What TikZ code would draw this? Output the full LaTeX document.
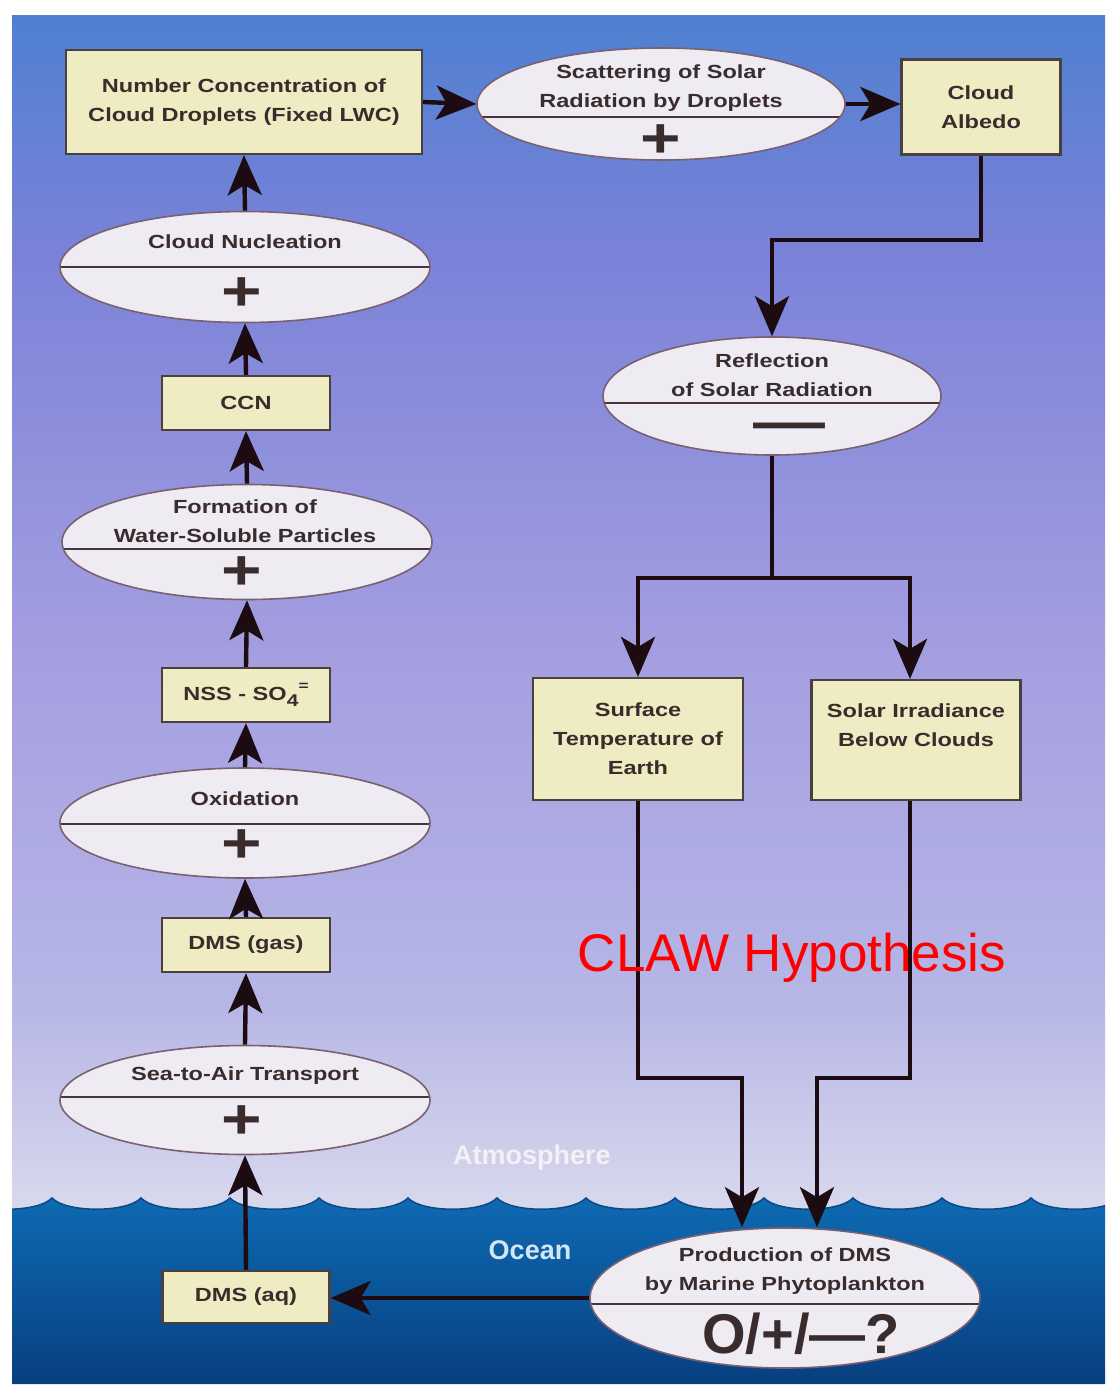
\documentclass[tikz,border=0pt]{standalone}
\usepackage{fontspec}
\setmainfont{Liberation Sans}
\newfontfamily\boxfont[FakeStretch=1.24]{Liberation Sans}
\usetikzlibrary{arrows.meta,shapes.geometric}
\definecolor{sk1}{HTML}{4F80D0}
\definecolor{sk2}{HTML}{7A82D8}
\definecolor{sk3}{HTML}{A49EE0}
\definecolor{sk4}{HTML}{B6B6E6}
\definecolor{sk5}{HTML}{DADAEE}
\definecolor{oc1}{HTML}{0E6AB2}
\definecolor{oc2}{HTML}{083F80}
\definecolor{wavec}{HTML}{0A4C88}
\definecolor{boxfill}{HTML}{EFEBC2}
\definecolor{boxline}{HTML}{4A4040}
\definecolor{ellfill}{HTML}{EEEBF3}
\definecolor{ellline}{HTML}{7A6070}
\definecolor{divc}{HTML}{4A3444}
\definecolor{txt}{HTML}{3A2C2C}
\definecolor{arrc}{HTML}{1C0C12}
\definecolor{atmc}{HTML}{F4F0F6}
\definecolor{ocnc}{HTML}{D2E6F8}
\newcommand\lblfont{\boxfont\bfseries\fontsize{9.5}{14.5}\selectfont}
\newcommand\sgnfont{\boxfont\bfseries\fontsize{28}{28}\selectfont}
\newcommand\atmfont{\bfseries\fontsize{13.5}{15}\selectfont}
\newcommand\clawfont{\fontsize{26.5}{30}\selectfont}
\begin{document}
\begin{tikzpicture}[x=0.5pt,y=-0.5pt,
  box/.style={draw=boxline,fill=boxfill,line width=1.1pt,inner sep=0pt,align=center,text=txt,font=\lblfont},
  ell/.style={ellipse,draw=ellline,fill=ellfill,line width=0.8pt,inner sep=0pt},
  sz/.style 2 args={minimum width=#1*0.5pt,minimum height=#2*0.5pt},
  lbl/.style={inner sep=0pt,align=center,text=txt,font=\lblfont},
  sgn/.style={inner sep=0pt,text=txt,font=\sgnfont},
  divline/.style={draw=divc,line width=1.2pt},
  div/.style={path picture={\draw[divline] ([yshift=#1]path picture bounding box.west) -- ([yshift=#1]path picture bounding box.east);}},
  arr/.style={draw=arrc,line width=2.2pt,line join=miter,-{Stealth[length=20pt,width=17pt,inset=5pt]}},
  link/.style={draw=arrc,line width=2.2pt,line join=miter},
]
\useasboundingbox (0,0) rectangle (1105,1387);
\fill[white] (0,0) rectangle (1105,1387);
% sky
\shade[top color=sk1,bottom color=sk2] (12,15) rectangle (1105,251);
\shade[top color=sk2,bottom color=sk3] (12,250) rectangle (1105,651);
\shade[top color=sk3,bottom color=sk4] (12,650) rectangle (1105,1001);
\shade[top color=sk4,bottom color=sk5] (12,1000) rectangle (1105,1220);
% ocean
\begin{scope}
\clip (12,15) rectangle (1105,1384);
\shade[top color=oc1,bottom color=oc2] (-37,1384) -- (-37,1198)
  foreach \x in {-37,52,...,1031} { .. controls (\x+14,1213) and (\x+75,1213) .. (\x+89,1198) }
  -- (1120,1384) -- cycle;
\draw[wavec,line width=0.8pt] (-37,1198)
  foreach \x in {-37,52,...,1031} { .. controls (\x+14,1213) and (\x+75,1213) .. (\x+89,1198) };
\end{scope}

% boxes
\node[box,sz={356}{104}] (num) at (244,102) {Number Concentration of\\Cloud Droplets (Fixed LWC)};
\node[box,sz={159}{95}] (alb) at (981,107) {Cloud\\Albedo};
\node[box,sz={168}{54}] (ccn) at (246,403) {CCN};
\node[box,sz={168}{54}] (nss) at (246,695) {NSS - SO\raisebox{-3pt}{\fontsize{8.5}{8.5}\selectfont 4}\raisebox{5pt}{\fontsize{7}{7}\selectfont =}};
\node[box,sz={168}{54}] (dmsg) at (246,945) {DMS (gas)};
\node[box,sz={167}{52}] (dmsaq) at (246,1297) {DMS (aq)};
\node[box,sz={210}{122}] (surf) at (638,739) {Surface\\Temperature of\\Earth};
\node[box,sz={209}{120}] (sol) at (916,740) {Solar Irradiance\\Below Clouds\\\mbox{}};

% ellipses
\node[ell,sz={368}{112},div=-6.5pt] (scat) at (661,104) {};
\node[lbl] (scatT) at (661,88) {Scattering of Solar\\Radiation by Droplets};
\node[sgn] (scatS) at (661,141) {+};

\node[ell,sz={370}{111},div=0pt] (nuc) at (245,267) {};
\node[lbl] (nucT) at (245,242) {Cloud Nucleation};
\node[sgn] (nucS) at (242,294) {+};

\node[ell,sz={370}{115},div=-3.5pt] (form) at (247,542) {};
\node[lbl] (formT) at (245,521) {Formation of\\Water-Soluble Particles};
\node[sgn] (formS) at (242,573) {+};

\node[ell,sz={370}{110},div=-0.5pt] (oxi) at (245,823) {};
\node[lbl] (oxiT) at (245,799) {Oxidation};
\node[sgn] (oxiS) at (242,846) {+};

\node[ell,sz={370}{109},div=1.5pt] (sea) at (245,1100) {};
\node[lbl] (seaT) at (245,1076) {Sea-to-Air Transport};
\node[sgn] (seaS) at (242,1122) {+};

\node[ell,sz={338}{118},div=-3.5pt] (refl) at (772,396) {};
\node[lbl] (reflT) at (772,375) {Reflection\\of Solar Radiation};
\node[sgn,anchor=base,font=\boxfont\bfseries\fontsize{29}{29}\selectfont] (reflS) at (789,441) {—};

\node[ell,sz={390}{140},div=-3pt] (prod) at (785,1298) {};
\node[lbl] (prodT) at (785,1271) {Production of DMS\\by Marine Phytoplankton};
\node[sgn,font=\bfseries\fontsize{28}{28}\selectfont] (prodS) at (801,1334) {O/+/—?};

% connectors
\draw[arr] (dmsaq.north) -- (sea.south);
\draw[arr] (sea.north) -- (dmsg.south);
\draw[arr] (dmsg.north) -- (oxi.south);
\draw[arr] (oxi.north) -- (nss.south);
\draw[arr] (nss.north) -- (form.south);
\draw[arr] (form.north) -- (ccn.south);
\draw[arr] (ccn.north) -- (nuc.south);
\draw[arr] (nuc.north) -- (num.south);
\draw[arr] (num.east) -- (scat.west);
\draw[arr] (scat.east) -- (scat.east -| alb.west);
\coordinate (bend1) at (772,240);
\draw[arr] (alb.south) |- (bend1) -- (refl.north);
\coordinate (split) at (772,578);
\draw[link] (refl.south) -- (split);
\draw[arr] (split) -| (surf.north);
\draw[arr] (split) -| ([xshift=-3pt]sol.north);
\coordinate (m1) at (742,1078);
\coordinate (m2) at (817,1078);
\draw[arr] (surf.south) |- (m1) -- (m1 |- prod.north);
\draw[arr] ([xshift=-3pt]sol.south) |- (m2) -- (m2 |- prod.north);
\draw[arr] (prod.west) -- (prod.west -| dmsaq.east);

% labels
\node[font=\atmfont,text=atmc] (atm) at (532,1158) {Atmosphere};
\node[font=\atmfont,text=ocnc] (ocn) at (530,1250) {Ocean};
\node[font=\clawfont,text=red,inner sep=0pt] (claw) at (792,958) {CLAW Hypothesis};
\end{tikzpicture}
\end{document}
